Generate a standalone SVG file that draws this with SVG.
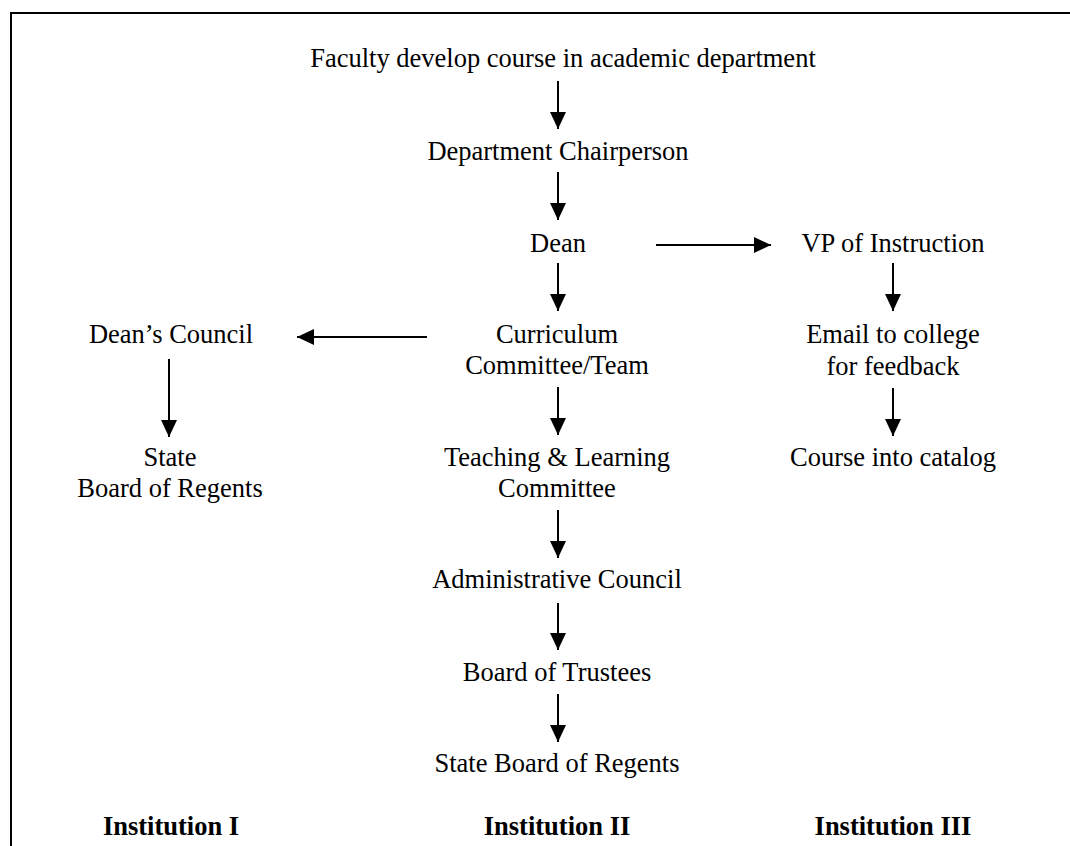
<svg xmlns="http://www.w3.org/2000/svg" width="1070" height="846" viewBox="0 0 1070 846">
<style>
text{font-family:"Liberation Serif","Times New Roman",serif;font-size:26.5px;fill:#000;text-anchor:middle}
.b{font-weight:bold}
.c{stroke:#000;stroke-width:2;fill:none}
</style>
<defs>
<marker id="ah" markerUnits="userSpaceOnUse" markerWidth="18" markerHeight="18" viewBox="0 0 18 18" refX="17" refY="9" orient="auto">
<path d="M0,1 L17,9 L0,17 Z" fill="#000"/>
</marker>
</defs>
<rect width="1070" height="846" fill="#fff"/>
<g id="frame">
<line x1="10" y1="13" x2="1070" y2="13" stroke="#000" stroke-width="2"/>
<line x1="11" y1="12" x2="11" y2="846" stroke="#000" stroke-width="2"/>
</g>
<g id="connectors">
<line class="c" x1="558" y1="81" x2="558" y2="129" marker-end="url(#ah)"/>
<line class="c" x1="558" y1="172" x2="558" y2="220" marker-end="url(#ah)"/>
<line class="c" x1="656" y1="245" x2="771" y2="245" marker-end="url(#ah)"/>
<line class="c" x1="558" y1="263" x2="558" y2="311" marker-end="url(#ah)"/>
<line class="c" x1="893" y1="263" x2="893" y2="311" marker-end="url(#ah)"/>
<line class="c" x1="427" y1="337" x2="297" y2="337" marker-end="url(#ah)"/>
<line class="c" x1="169" y1="359" x2="169" y2="437" marker-end="url(#ah)"/>
<line class="c" x1="558" y1="387" x2="558" y2="435" marker-end="url(#ah)"/>
<line class="c" x1="893" y1="388" x2="893" y2="436" marker-end="url(#ah)"/>
<line class="c" x1="558" y1="510" x2="558" y2="558" marker-end="url(#ah)"/>
<line class="c" x1="558" y1="603" x2="558" y2="650" marker-end="url(#ah)"/>
<line class="c" x1="558" y1="694" x2="558" y2="742" marker-end="url(#ah)"/>
</g>
<g id="n-faculty"><text x="563" y="67">Faculty develop course in academic department</text></g>
<g id="n-chair"><text x="558" y="160">Department Chairperson</text></g>
<g id="n-dean"><text x="558" y="252">Dean</text></g>
<g id="n-vp"><text x="893" y="252">VP of Instruction</text></g>
<g id="n-email"><text x="893" y="343">Email to college</text><text x="893" y="375">for feedback</text></g>
<g id="n-catalog"><text x="893" y="466">Course into catalog</text></g>
<g id="n-curriculum"><text x="557" y="343">Curriculum</text><text x="557" y="374">Committee/Team</text></g>
<g id="n-deanscouncil"><text x="171" y="343">Dean’s Council</text></g>
<g id="n-state1"><text x="170" y="466">State</text><text x="170" y="497">Board of Regents</text></g>
<g id="n-teaching"><text x="557" y="466">Teaching &amp; Learning</text><text x="557" y="497">Committee</text></g>
<g id="n-admin"><text x="557" y="588">Administrative Council</text></g>
<g id="n-trustees"><text x="557" y="681">Board of Trustees</text></g>
<g id="n-state2"><text x="557" y="772">State Board of Regents</text></g>
<g id="labels">
<text class="b" x="171" y="835">Institution I</text>
<text class="b" x="557" y="835">Institution II</text>
<text class="b" x="893" y="835">Institution III</text>
</g>
</svg>
